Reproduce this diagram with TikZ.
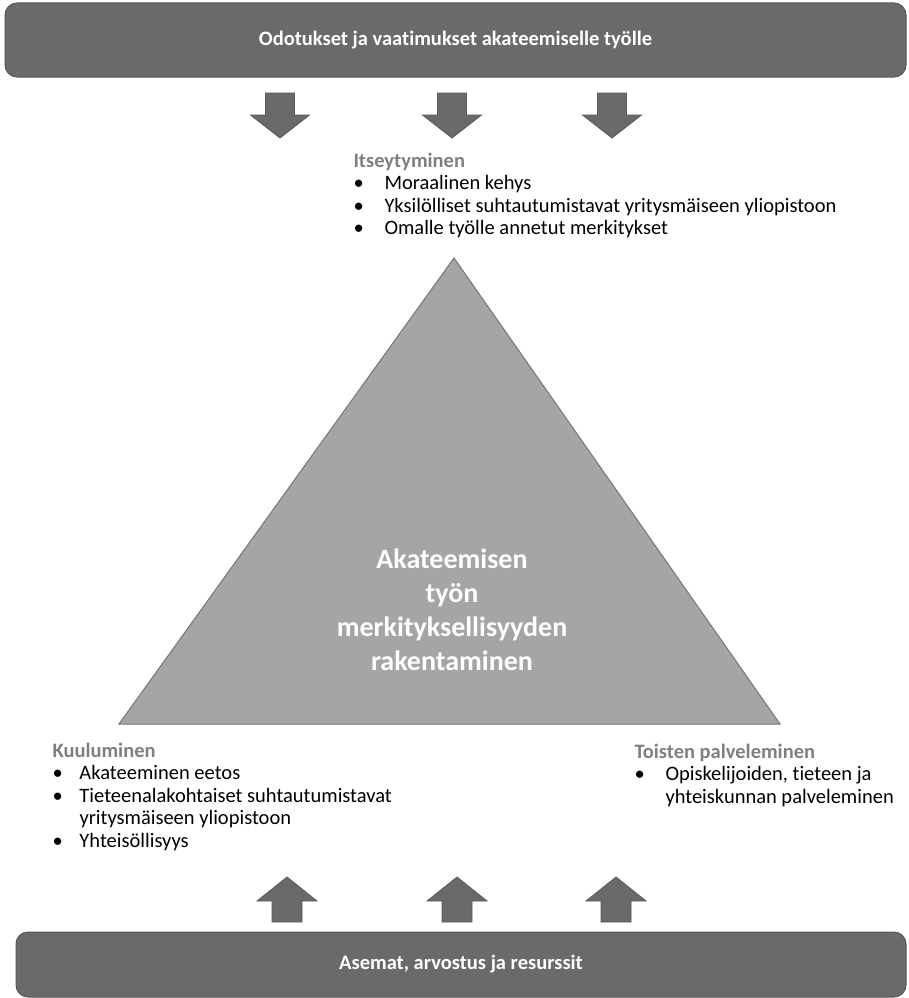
\documentclass[tikz,border=0pt]{standalone}
\usepackage{fontspec}
\setmainfont{Carlito}[Ligatures=NoCommon]
\usepackage{array}
\usetikzlibrary{positioning,calc}

\definecolor{bargray}{RGB}{106,106,106}
\definecolor{barline}{RGB}{88,88,88}
\definecolor{trigray}{RGB}{165,165,165}
\definecolor{triline}{RGB}{118,118,118}
\definecolor{headgray}{RGB}{127,127,127}

\newcommand{\heading}[1]{\textbf{\color{headgray}#1}}

\begin{document}
\begin{tikzpicture}[x=1pt,y=-1pt,line width=1pt]

\tikzstyle{bar}=[rectangle, rounded corners=12pt, fill=bargray, draw=barline,
text=white, font=\fontsize{20.5}{24}\selectfont\bfseries]
\tikzstyle{blockarrow}=[fill=bargray, draw=barline, line width=0.8pt]
\tikzstyle{listbox}=[inner sep=0pt, anchor=base west, font=\fontsize{20.5}{22.5}\selectfont]
\tikzstyle{core}=[align=center, text=white, font=\fontsize{28}{34}\selectfont\bfseries]

\tikzset{
downarrow/.pic={\filldraw[blockarrow] (-14.5,0) -- (14.5,0) -- (14.5,22) -- (29.5,22)
 -- (0,45) -- (-29.5,22) -- (-14.5,22) -- cycle;},
uparrow/.pic={\filldraw[blockarrow] (0,0) -- (30,24) -- (15,24) -- (15,45)
 -- (-15,45) -- (-15,24) -- (-30,24) -- cycle;}
}

\useasboundingbox (0,0) rectangle (908,998);

%top and bottom bars
\node[bar, minimum width=901pt, minimum height=74pt]
(demands) at (455.5,40)
{Odotukset ja vaatimukset akateemiselle työlle};

\node[bar, minimum width=890pt, minimum height=65pt]
(positions) at (461,964.5)
{Asemat, arvostus ja resurssit};

%block arrows
\foreach \x in {280,452,612}
  \pic at (\x,93) {downarrow};
\foreach \x in {287,457,616}
  \pic at (\x,877) {uparrow};

%triangle
\coordinate (apex) at (454,258);
\coordinate (left) at (119,724);
\coordinate (right) at (780,724);
\filldraw[fill=trigray, draw=triline] (apex) -- (left) -- (right) -- cycle;

\node[core]
(meaning) at (452,610)
{Akateemisen\\työn\\merkityksellisyyden\\rakentaminen};

%lists
\node[listbox]
(self) at (353,167)
{\begin{tabular}[t]{@{}p{31pt}@{}l@{}}
\multicolumn{2}{@{}l@{}}{\heading{Itseytyminen}}\\
\textbullet & Moraalinen kehys\\
\textbullet & Yksilölliset suhtautumistavat yritysmäiseen yliopistoon\\
\textbullet & Omalle työlle annetut merkitykset
\end{tabular}};

\node[listbox]
(belong) at (52,757)
{\begin{tabular}[t]{@{}p{27pt}@{}l@{}}
\multicolumn{2}{@{}l@{}}{\heading{Kuuluminen}}\\
\textbullet & Akateeminen eetos\\
\textbullet & Tieteenalakohtaiset suhtautumistavat\\
 & yritysmäiseen yliopistoon\\
\textbullet & Yhteisöllisyys
\end{tabular}};

\node[listbox]
(serve) at (634,758)
{\begin{tabular}[t]{@{}p{31pt}@{}l@{}}
\multicolumn{2}{@{}l@{}}{\heading{Toisten palveleminen}}\\
\textbullet & Opiskelijoiden, tieteen ja\\
 & yhteiskunnan palveleminen
\end{tabular}};

\end{tikzpicture}
\end{document}
